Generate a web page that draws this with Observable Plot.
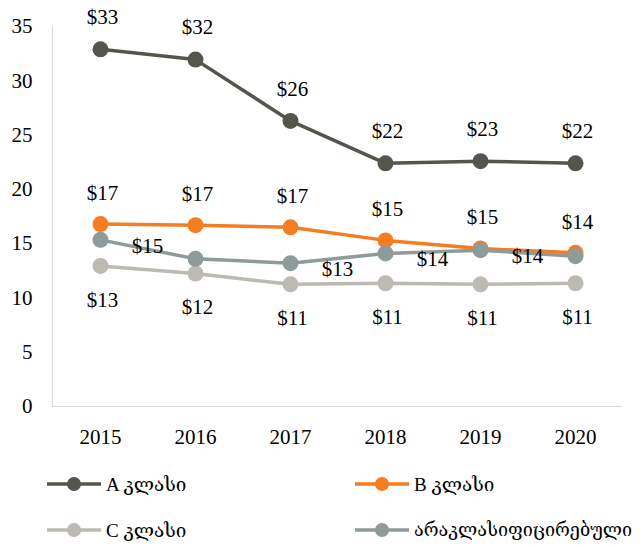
<!DOCTYPE html>
<html>
<head>
<meta charset="utf-8">
<script src="https://cdn.jsdelivr.net/npm/d3@7"></script>
<script src="https://cdn.jsdelivr.net/npm/@observablehq/plot@0.6"></script>
<style>
  body { margin: 0; background: #fff; font-family: "Liberation Serif", "DejaVu Serif", serif; }
  #wrap { position: relative; width: 643px; height: 548px; }
  .legend { position: absolute; left: 47px; top: 472px; display: grid; grid-template-columns: 308px 290px; row-gap: 22px; }
  .item { display: flex; align-items: center; height: 24px; font-size: 19px; color: #000; white-space: nowrap; }
  .item.long { font-size: 18px; }
  .item svg { margin-right: 5px; flex: none; }
</style>
</head>
<body>
<div id="wrap"></div>
<script>
const years = ["2015", "2016", "2017", "2018", "2019", "2020"];
const seriesNames = ["A კლასი", "B კლასი", "C კლასი", "არაკლასიფიცირებული"];
const seriesColors = ["#55554d", "#f47d22", "#bdbab3", "#8f9b9a"];
const aValues = [32.9, 31.95, 26.3, 22.4, 22.6, 22.4];
const bValues = [16.8, 16.7, 16.5, 15.3, 14.55, 14.15];
const cValues = [12.95, 12.25, 11.25, 11.35, 11.25, 11.35];
const ncValues = [15.35, 13.6, 13.2, 14.1, 14.4, 13.85];
const aLabels = ["$33", "$32", "$26", "$22", "$23", "$22"];
const bLabels = ["$17", "$17", "$17", "$15", "$15", "$14"];
const cLabels = ["$13", "$12", "$11", "$11", "$11", "$11"];
const ncLabels = ["$15", "", "$13", "$14", "$14", ""];
const yTicks = [0, 5, 10, 15, 20, 25, 30, 35];

const allValues = [aValues, bValues, cValues, ncValues];
const allLabels = [aLabels, bLabels, cLabels, ncLabels];
const labelOffsets = [{dx: 2, dy: -32}, {dx: 2, dy: -31}, {dx: 2, dy: 34}, {dx: 47, dy: 6}];

const rows = [];
seriesNames.forEach((s, i) => years.forEach((y, j) => rows.push({series: s, year: y, value: allValues[i][j], label: allLabels[i][j]})));

const font = "'Liberation Serif', 'DejaVu Serif', serif";
const marks = [
  Plot.ruleY([0], {stroke: "#d9d9d9", strokeWidth: 1.2}),
  Plot.frame({anchor: "left", stroke: "#d9d9d9", strokeWidth: 1.2})
];
seriesNames.forEach((s, i) => {
  const d = rows.filter(r => r.series === s);
  marks.push(Plot.lineY(d, {x: "year", y: "value", stroke: "series", strokeWidth: 3.5}));
  marks.push(Plot.dot(d, {x: "year", y: "value", fill: "series", r: 8}));
});
seriesNames.forEach((s, i) => {
  const d = rows.filter(r => r.series === s && r.label);
  marks.push(Plot.text(d, {x: "year", y: "value", text: "label", dx: labelOffsets[i].dx, dy: labelOffsets[i].dy, fontSize: 21, fill: "#000"}));
});

const chart = Plot.plot({
  width: 643,
  height: 460,
  marginLeft: 52,
  marginRight: 21,
  marginTop: 26,
  marginBottom: 54,
  style: {fontFamily: font, fontSize: "21px", color: "#000", background: "#fff"},
  x: {type: "point", domain: years, padding: 0.5, label: null, tickSize: 0, tickPadding: 23},
  y: {domain: [0, 35], ticks: yTicks, label: null, tickSize: 0, tickPadding: 20},
  color: {domain: seriesNames, range: seriesColors},
  marks
});
const wrap = document.getElementById("wrap");
wrap.appendChild(chart);

const legend = document.createElement("div");
legend.className = "legend";
seriesNames.forEach((s, i) => {
  const item = document.createElement("div");
  item.className = "item" + (i === 3 ? " long" : "");
  item.innerHTML = `<svg width="54" height="18"><line x1="0" x2="54" y1="9" y2="9" stroke="${seriesColors[i]}" stroke-width="3.5"/><circle cx="27" cy="9" r="7" fill="${seriesColors[i]}"/></svg><span>${s}</span>`;
  legend.appendChild(item);
});
wrap.appendChild(legend);
</script>
</body>
</html>
